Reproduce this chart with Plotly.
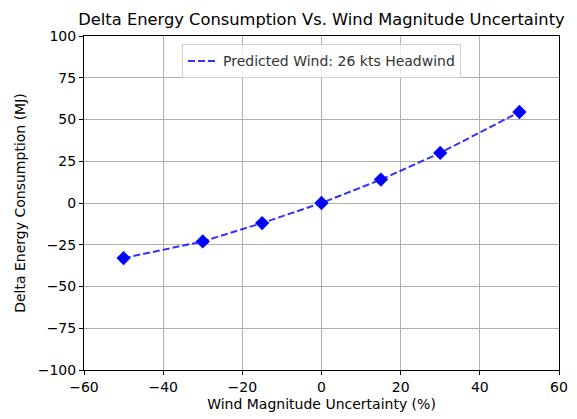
import plotly.graph_objects as go

uncertainty = [-50, -30, -15, 0, 15, 30, 50]
delta_energy = [-33, -23, -12, 0, 14, 30, 54.5]
x_ticks = [-60, -40, -20, 0, 20, 40, 60]
y_ticks = [-100, -75, -50, -25, 0, 25, 50, 75, 100]

fig = go.Figure()
fig.add_trace(go.Scatter(
    x=uncertainty, y=delta_energy, mode="lines",
    line=dict(color="rgba(0,0,255,0.8)", dash="7px,3px", width=2),
    name="Predicted Wind: 26 kts Headwind", showlegend=True))
fig.add_trace(go.Scatter(
    x=uncertainty, y=delta_energy, mode="markers",
    marker=dict(symbol="diamond", color="blue", size=11),
    showlegend=False))

font = "DejaVu Sans, sans-serif"
axis_common = dict(showline=True, linecolor="black", linewidth=1, mirror=True,
                   ticks="outside", ticklen=4, tickcolor="black",
                   showgrid=True, gridcolor="#b0b0b0", gridwidth=1,
                   zeroline=False, tickfont=dict(size=14, color="black", family=font))
fig.update_layout(
    width=577, height=419,
    margin=dict(l=76, r=26, t=28, b=57),
    paper_bgcolor="white", plot_bgcolor="white",
    font=dict(family=font, color="black"),
    title=dict(text="Delta Energy Consumption Vs. Wind Magnitude Uncertainty",
               x=(76 + 551) / 2 / 577, xanchor="center", y=1 - 11 / 419, yanchor="middle",
               font=dict(size=16.3, color="black", family=font)),
    xaxis=dict(range=[-60, 60], tickvals=x_ticks,
               ticktext=[str(v).replace("-", "\u2212") for v in x_ticks],
               title=dict(text="Wind Magnitude Uncertainty (%)", font=dict(size=14), standoff=5),
               **axis_common),
    yaxis=dict(range=[-100, 100], tickvals=y_ticks,
               ticktext=[str(v).replace("-", "\u2212") for v in y_ticks],
               title=dict(text="Delta Energy Consumption (MJ)", font=dict(size=14), standoff=8),
               **axis_common),
    legend=dict(x=0.5, y=0.975, xanchor="center", yanchor="top",
                bgcolor="rgba(255,255,255,0.8)", bordercolor="#d0d0d0", borderwidth=1,
                font=dict(size=14, family=font, color="#333")),
)
fig.write_html("out.html")
